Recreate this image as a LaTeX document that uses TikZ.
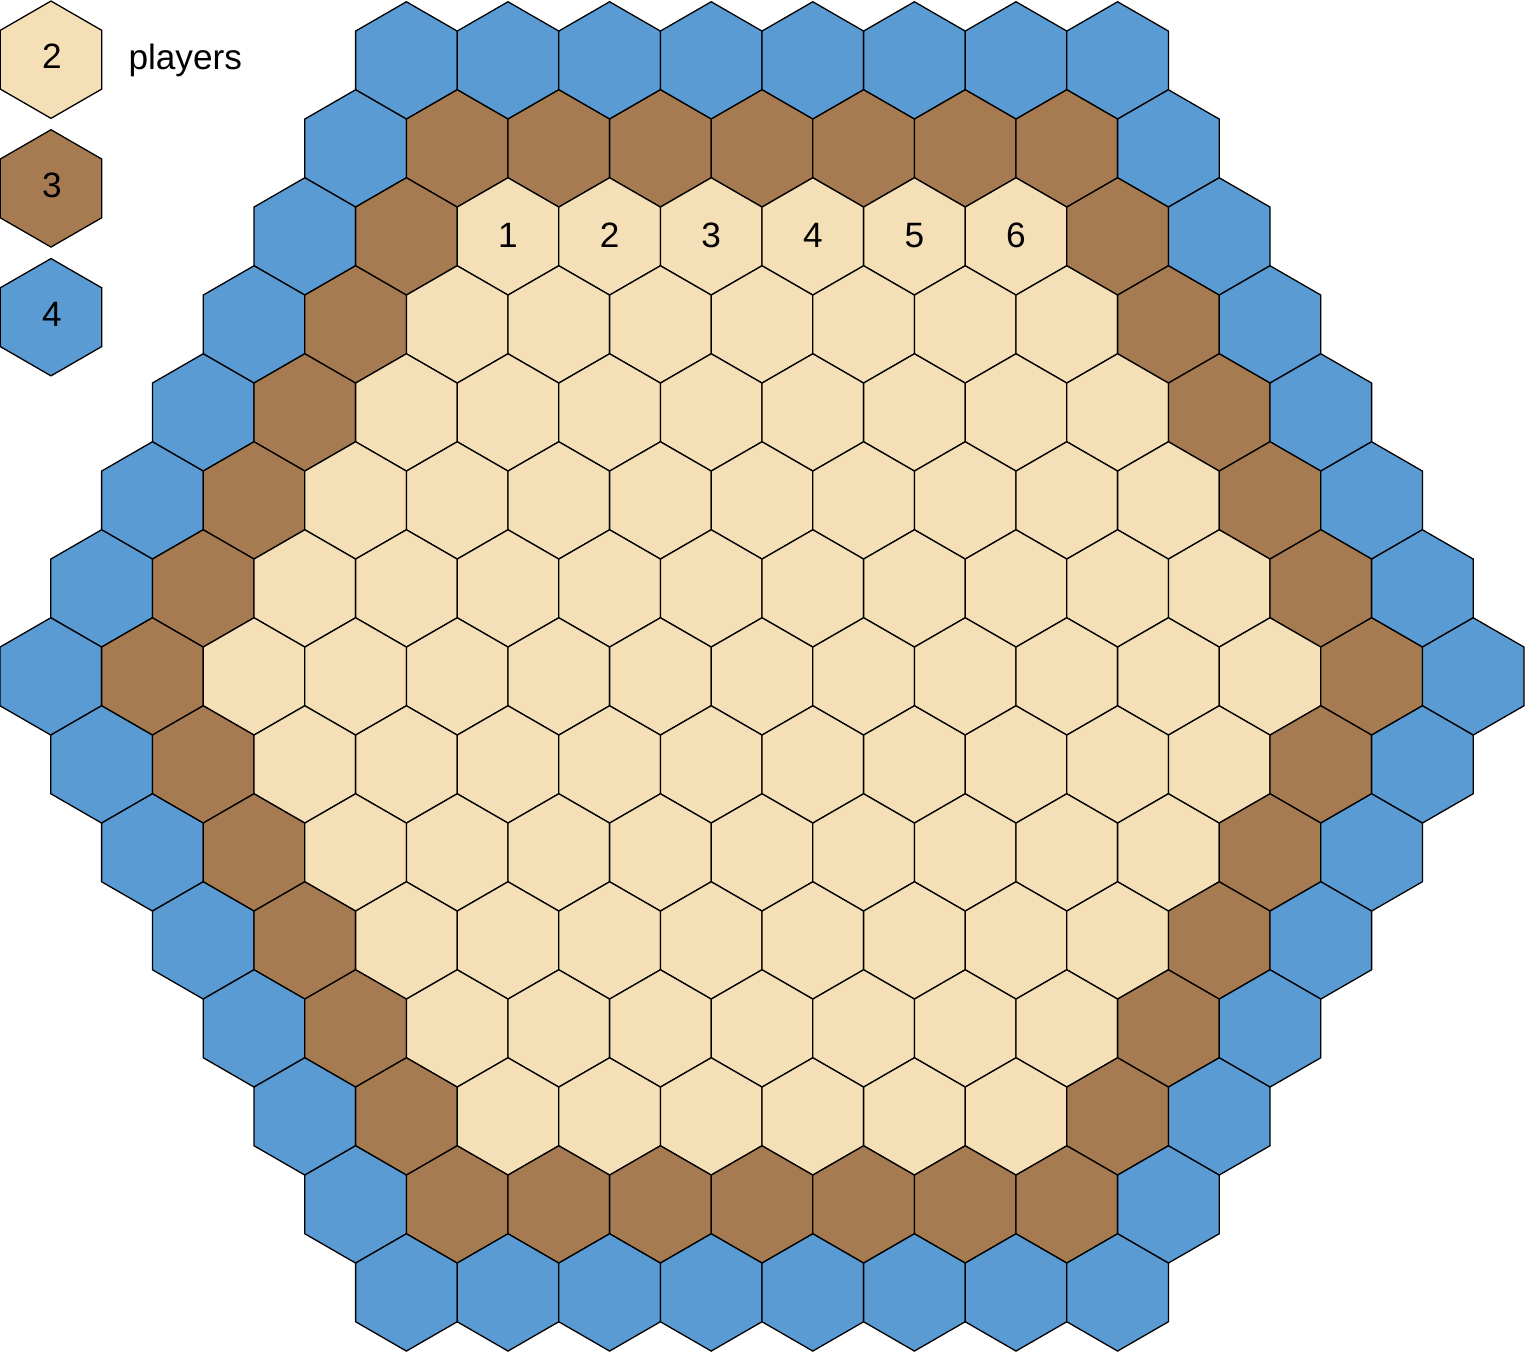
\documentclass[tikz,border=0pt]{standalone}
\usepackage{fontspec}
\setmainfont{Liberation Sans}
\usepackage{xcolor}
\definecolor{HexSand}{HTML}{F5DFB6}
\definecolor{HexBrown}{HTML}{A67B51}
\definecolor{HexBlue}{HTML}{5A9BD4}
\newcommand{\hexcell}[3]{% centre x, centre y, fill
  \filldraw[hexline, fill=#3] (#1,#2) +(0,-58.65) -- +(50.8,-29.33) -- +(50.8,29.33)
    -- +(0,58.65) -- +(-50.8,29.33) -- +(-50.8,-29.33) -- cycle;}

\begin{document}
\begin{tikzpicture}[x=1pt, y=-1pt, font=\fontsize{35.2}{42}\selectfont,
    hexline/.style={draw=black, line width=1.3pt, line join=miter},
    lbl/.style={inner sep=0pt}]
  \useasboundingbox (0,0) rectangle (1526,1352);
  % board: 15 rows, outer ring blue, next ring brown
  \foreach \r in {0,...,14} {
    \pgfmathtruncatemacro\d{abs(\r-7)}
    \pgfmathtruncatemacro\n{14-\d}
    \foreach \i in {0,...,\n} {
      \pgfmathtruncatemacro\ring{min(min(\r,14-\r),min(\i,\n-\i))}
      \pgfmathsetmacro\cx{50.8*(1+\d)+101.6*\i}
      \pgfmathsetmacro\cy{60.4+88*\r}
      \ifcase\ring \def\hc{HexBlue}\or \def\hc{HexBrown}\else \def\hc{HexSand}\fi
      \hexcell{\cx}{\cy}{\hc}
    }
  }
  \foreach \k in {1,...,6}
    \node[lbl] (num\k) at ({304.8+101.6*(\k+1)},235.4) {\k}; % first sand row
  % legend
  \hexcell{51}{59.7}{HexSand}   \node[lbl] (two) at (52,56.5) {2};
  \hexcell{51}{188.4}{HexBrown} \node[lbl] (three) at (52,185.5) {3};
  \hexcell{51}{317.2}{HexBlue}  \node[lbl] (four) at (52,314.8) {4};
  \node[lbl, anchor=base west] (players) at (128.3,69) {players};
\end{tikzpicture}
\end{document}
